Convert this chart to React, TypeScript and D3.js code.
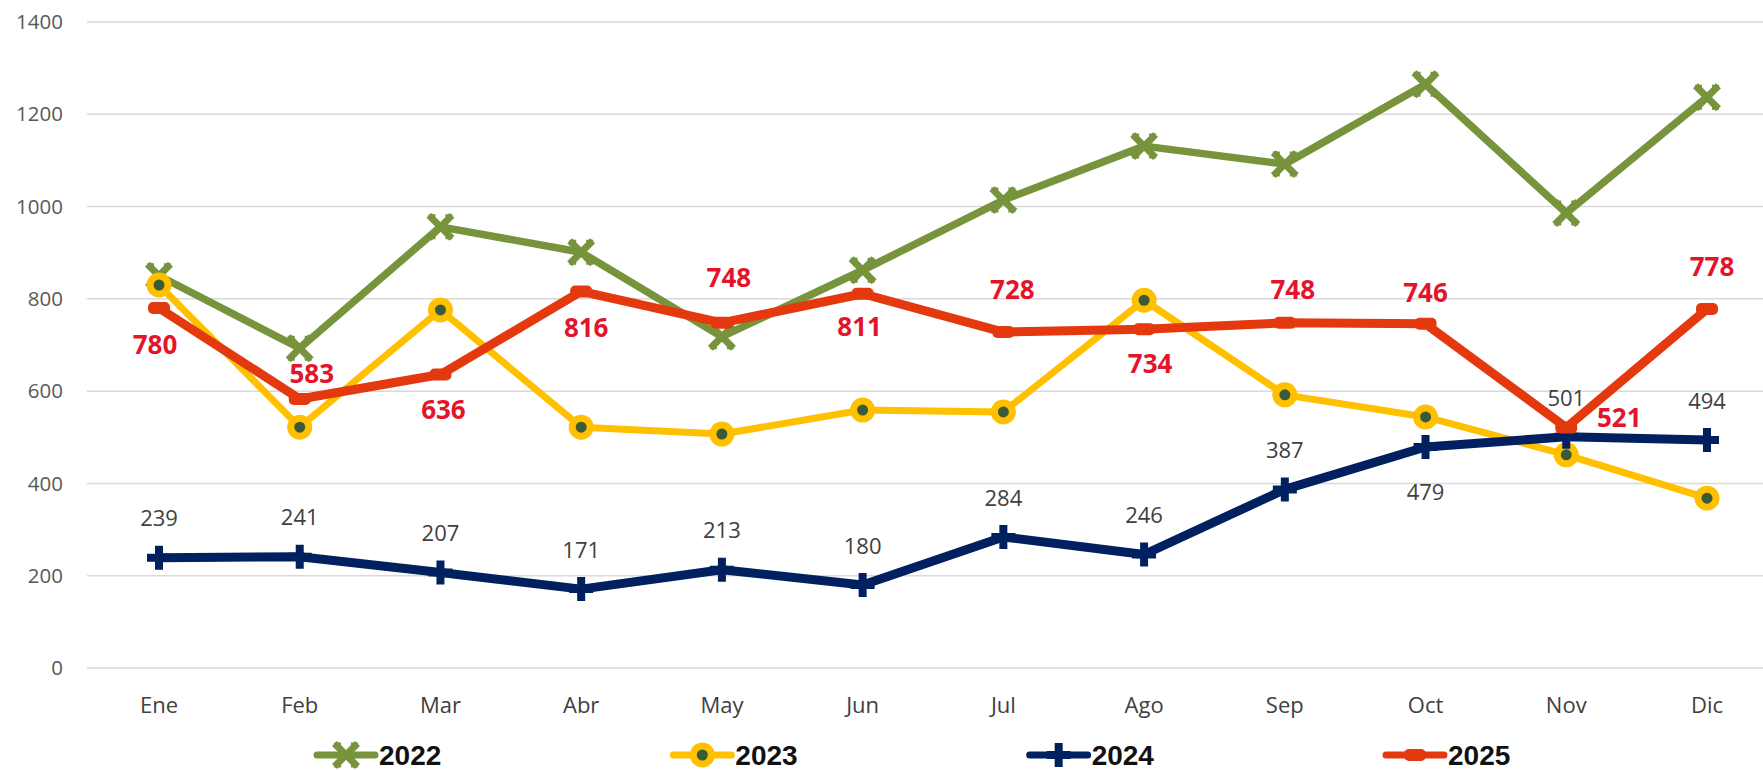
import React from 'react';
import * as d3 from 'd3';

const months = ['Ene', 'Feb', 'Mar', 'Abr', 'May', 'Jun', 'Jul', 'Ago', 'Sep', 'Oct', 'Nov', 'Dic'];
const yTicks = [0, 200, 400, 600, 800, 1000, 1200, 1400];
const years = ['2022', '2023', '2024', '2025'];

const values2022 = [850, 693, 956, 901, 718, 862, 1014, 1131, 1092, 1265, 986, 1237];
const values2023 = [830, 522, 776, 522, 507, 559, 555, 797, 592, 544, 462, 368];
const values2024 = [239, 241, 207, 171, 213, 180, 284, 246, 387, 479, 501, 494];
const values2025 = [780, 583, 636, 816, 748, 811, 728, 734, 748, 746, 521, 778];

// label offsets (px) from each point, as placed in the original
const labelDy2024 = [-39, -39, -39, -39, -39, -39, -39, -39, -39, 45, -39, -39];
const labelDy2025 = [37, -25, 35, 36, -45, 33, -42, 35, -33, -31, -10, -42];
const labelDx2025 = [-4, 12, 3, 5, 7, -3, 9, 6, 8, 0, 53, 5];

const W = 1763;
const H = 770;
const GREEN = '#77933c';
const YELLOW = '#ffc000';
const NAVY = '#002060';
const RED = '#e4390f';
const LABEL_RED = '#e3152b';
const DOT = '#3b5a3a';
const FONT = '"Open Sans", "Liberation Sans", sans-serif';

const x = d3.scalePoint<string>().domain(months).range([159, 1707]);
const y = d3.scaleLinear().domain([0, 1400]).range([668, 22]);

const line = d3.line<number>()
    .x((d, i) => x(months[i]) as number)
    .y(d => y(d));

const Marker = ({ kind, cx, cy }: { kind: string; cx: number; cy: number }) => {
    if (kind === '2022') {
        return (
            <g transform={`translate(${cx},${cy})`}>
                <path d="M-9,-9L9,9M-9,9L9,-9" stroke={GREEN} strokeWidth={7} strokeLinecap="square" />
                <path d="M-12,-11H-5M5,-11H12M-12,11H-5M5,11H12" stroke={GREEN} strokeWidth={3} />
            </g>
        );
    }
    if (kind === '2023') {
        return (
            <g>
                <circle cx={cx} cy={cy} r={12.5} fill={YELLOW} />
                <circle cx={cx} cy={cy} r={5.5} fill={DOT} />
            </g>
        );
    }
    if (kind === '2024') {
        return (
            <g transform={`translate(${cx},${cy})`}>
                <path d="M0,-12V12M-12,0H12" stroke={NAVY} strokeWidth={8} />
            </g>
        );
    }
    return <rect x={cx - 11} y={cy - 6} width={22} height={12} rx={5} fill={RED} />;
};

const series = [
    { key: '2022', values: values2022, color: GREEN, width: 7.5 },
    { key: '2023', values: values2023, color: YELLOW, width: 7 },
    { key: '2024', values: values2024, color: NAVY, width: 9 },
    { key: '2025', values: values2025, color: RED, width: 9 }
];

const legendX = d3.scalePoint<string>().domain(years).range([317, 1386]);

export default function App() {
    return (
        <svg width={W} height={H} style={{ position: 'absolute', left: 0, top: 0, background: '#fff' }}>
            <rect width={W} height={H} fill="#fff" />
            {/* grid + y axis */}
            {yTicks.map(t => (
                <g key={t}>
                    <line x1={87} x2={W} y1={y(t)} y2={y(t)} stroke="#d9d9d9" strokeWidth={1.5} />
                    <text x={63} y={y(t)} dy="0.35em" textAnchor="end" fontFamily={FONT} fontSize={20.5} fill="#595959">{t}</text>
                </g>
            ))}
            {/* x axis labels */}
            {months.map(m => (
                <text key={m} x={x(m)} y={713} textAnchor="middle" fontFamily={FONT} fontSize={22} fill="#404040">{m}</text>
            ))}
            {/* lines + markers */}
            {series.map(s => (
                <g key={s.key}>
                    <path d={line(s.values) || ''} fill="none" stroke={s.color} strokeWidth={s.width} strokeLinejoin="round" />
                    {s.values.map((v, i) => (
                        <Marker key={i} kind={s.key} cx={x(months[i]) as number} cy={y(v)} />
                    ))}
                </g>
            ))}
            {/* data labels 2024 */}
            {values2024.map((v, i) => (
                <text key={i} x={x(months[i])} y={y(v) + labelDy2024[i]} dy="0.35em"
                    textAnchor="middle" fontFamily={FONT} fontSize={22} fill="#404040">{v}</text>
            ))}
            {/* data labels 2025 */}
            {values2025.map((v, i) => (
                <text key={i} x={(x(months[i]) as number) + labelDx2025[i]} y={y(v) + labelDy2025[i]} dy="0.35em"
                    textAnchor="middle" fontFamily={FONT} fontSize={26} fontWeight="bold" fill={LABEL_RED}>{v}</text>
            ))}
            {/* legend */}
            {series.map(s => {
                const lx = legendX(s.key) as number;
                return (
                    <g key={s.key}>
                        <line x1={lx} x2={lx + 58} y1={755} y2={755} stroke={s.color} strokeWidth={7} strokeLinecap="round" />
                        <Marker kind={s.key} cx={lx + 29} cy={755} />
                        <text x={lx + 62} y={755} dy="0.36em" fontFamily='"Liberation Sans", Arial, sans-serif'
                            fontSize={28} fontWeight="bold" fill="#111">{s.key}</text>
                    </g>
                );
            })}
        </svg>
    );
}
